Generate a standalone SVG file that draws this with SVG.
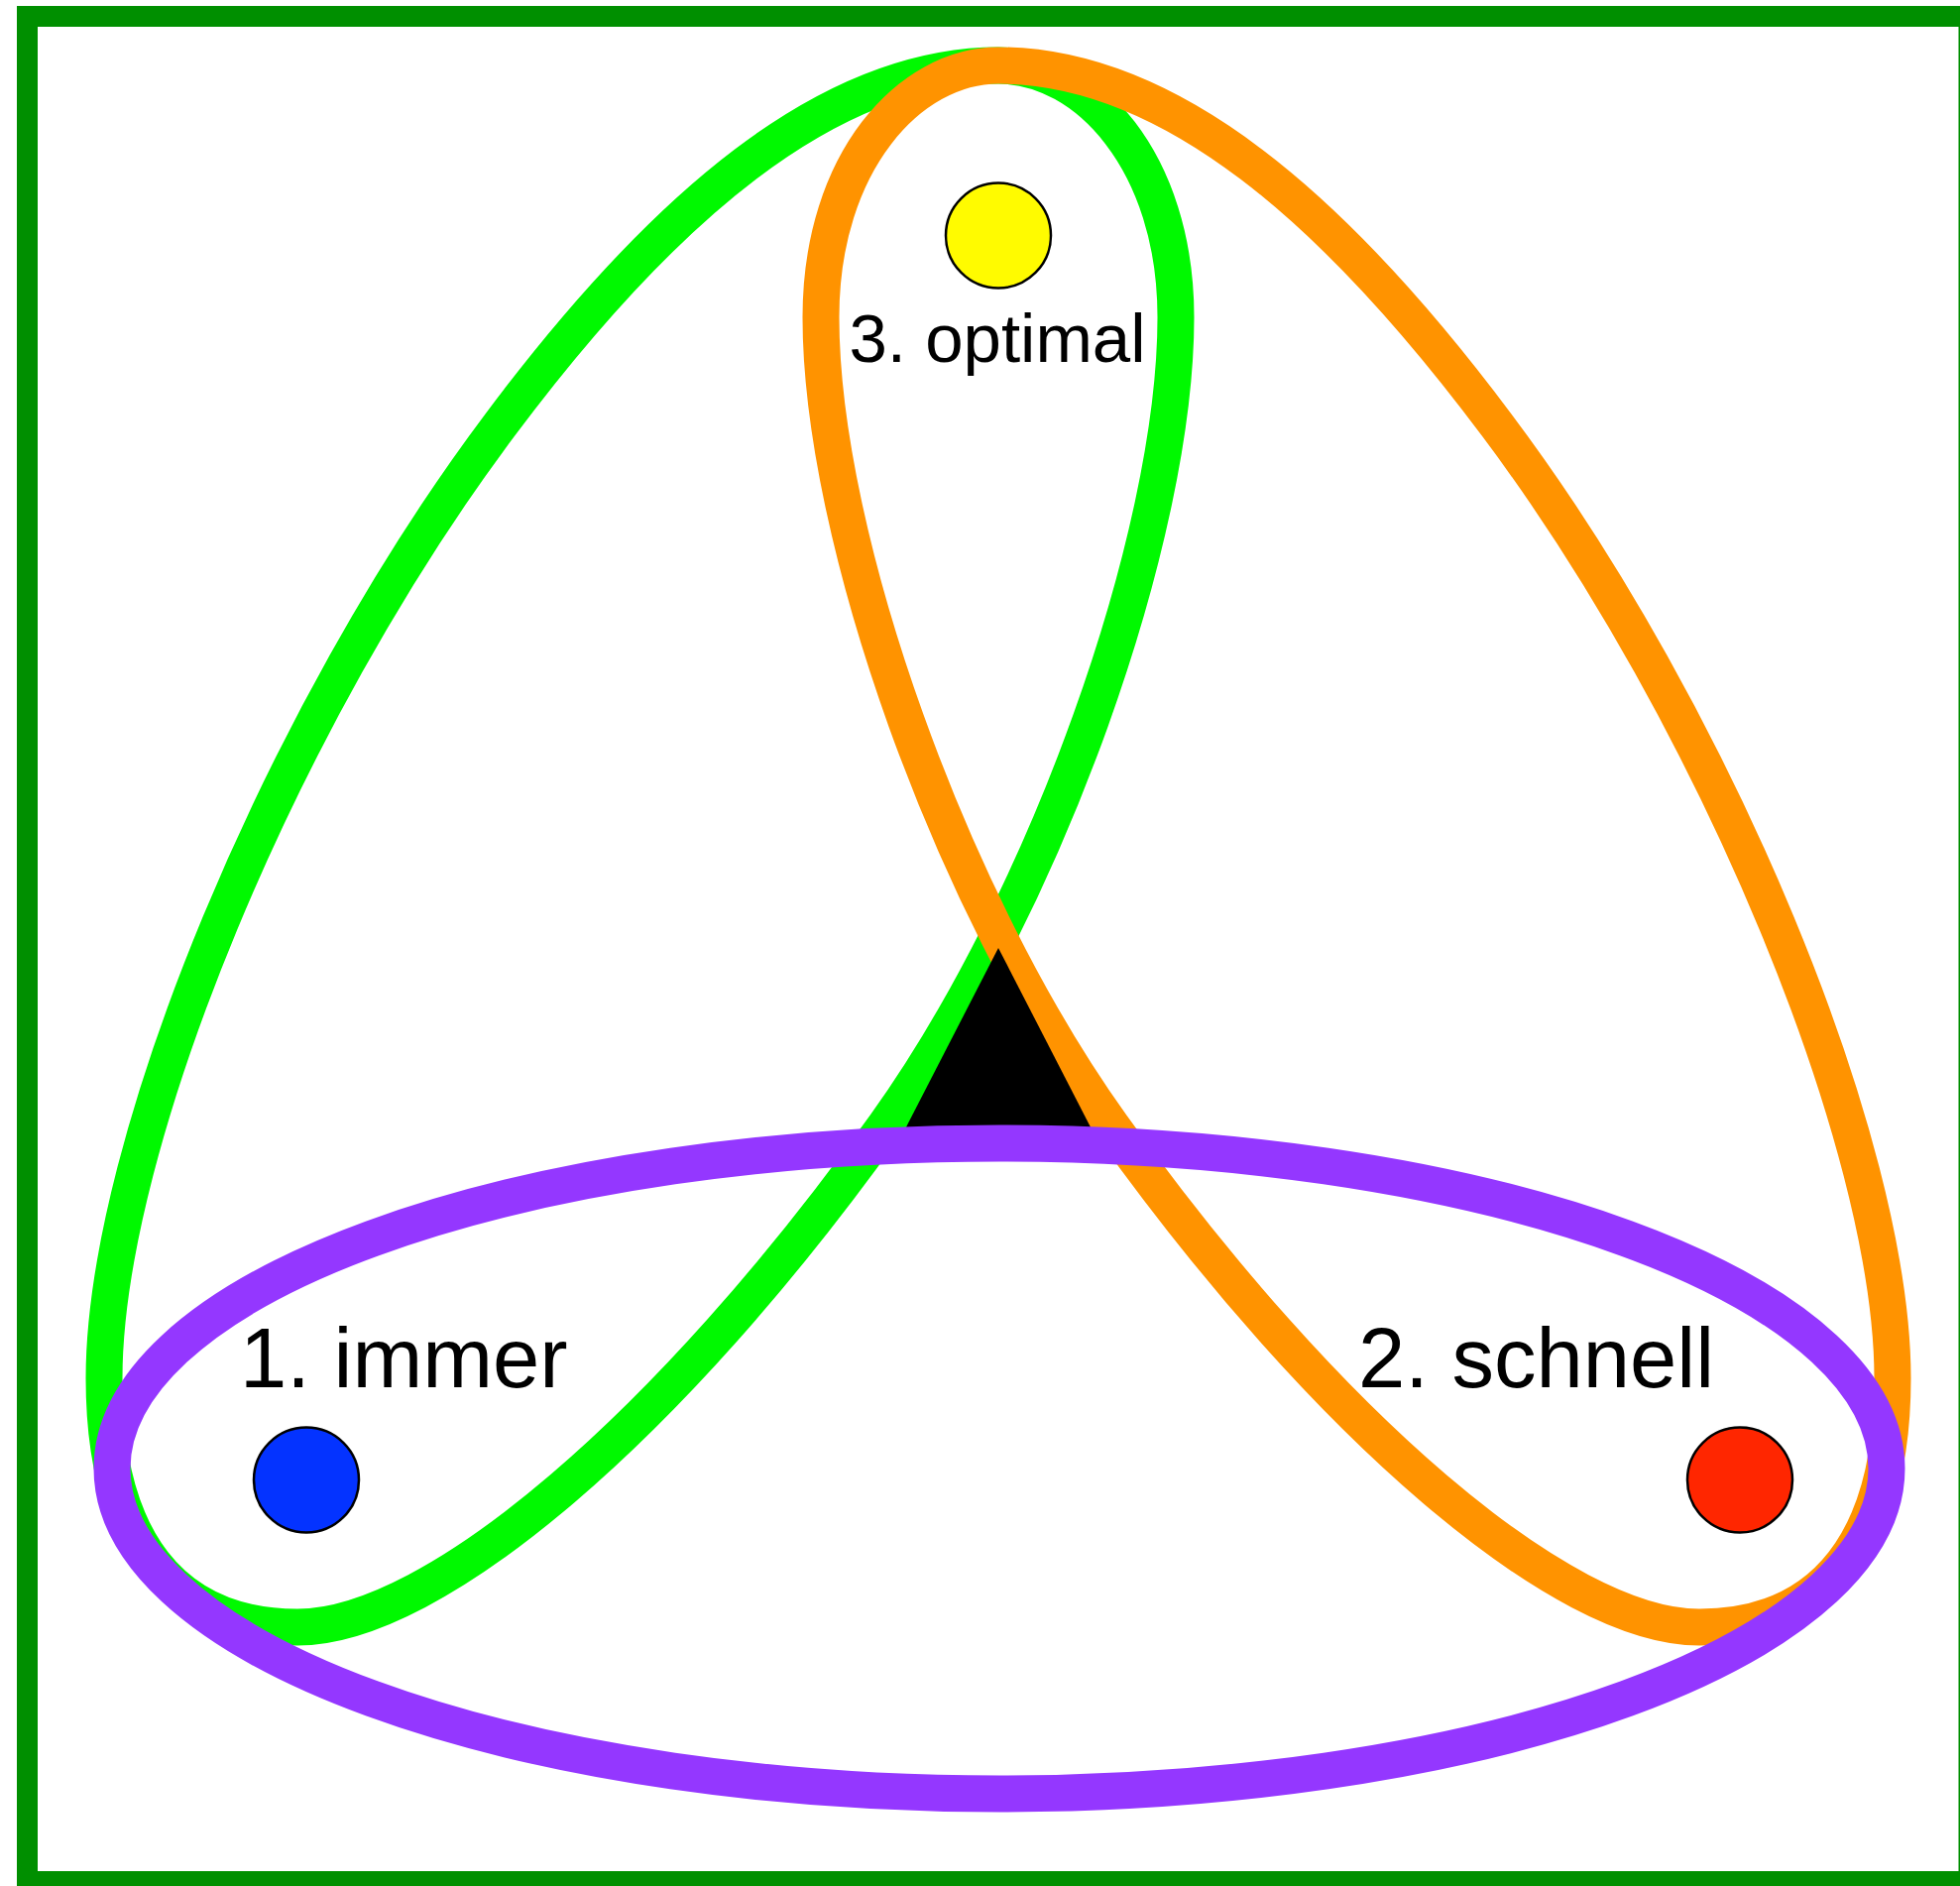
<svg xmlns="http://www.w3.org/2000/svg" xmlns:xlink="http://www.w3.org/1999/xlink" width="1977" height="1902" viewBox="0 0 1977 1902">
<style>
.loop{fill:none;stroke-width:37;stroke-linejoin:round}
.dot{stroke:#000;stroke-width:2.5}
.lbl{font-family:"Liberation Sans",Arial,Helvetica,sans-serif;fill:#000}
</style>
<defs>
<path id="loopShape" d="M1007,66 C834,66 667,211 504,429 C284,722 105,1154 105,1390 C105,1553 173,1641 300,1641 C438,1641 676,1438 893,1135 C1054,911 1186,543 1186,320 C1186,163 1096,66 1007,66 Z"/>
</defs>
<rect x="0" y="0" width="1977" height="1902" fill="#fff"/>
<g id="frame">
<rect x="27.5" y="16.5" width="1958.5" height="1881" fill="none" stroke="#008f00" stroke-width="21"/>
</g>
<g id="connectors">
<use id="loop-green" xlink:href="#loopShape" href="#loopShape" class="loop" stroke="#00f900"/>
<use id="loop-orange" xlink:href="#loopShape" href="#loopShape" class="loop" stroke="#ff9300" transform="matrix(-1 0 0 1 2014 0)"/>
<polygon id="center-triangle" points="1007,956 902,1160 1112,1160" fill="#000"/>
<ellipse id="loop-purple" cx="1008" cy="1481" rx="895" ry="328" class="loop" stroke="#9437ff"/>
</g>
<g id="node-optimal">
<circle class="dot" cx="1007" cy="237.5" r="53" fill="#fffb00"/>
<text class="lbl" x="1006" y="365" font-size="69" text-anchor="middle">3. optimal</text>
</g>
<g id="node-immer">
<circle class="dot" cx="309" cy="1492.5" r="53" fill="#0433ff"/>
<text class="lbl" x="242" y="1399" font-size="85">1. immer</text>
</g>
<g id="node-schnell">
<circle class="dot" cx="1755" cy="1492.5" r="53" fill="#ff2600"/>
<text class="lbl" x="1370" y="1399" font-size="85">2. schnell</text>
</g>
</svg>
